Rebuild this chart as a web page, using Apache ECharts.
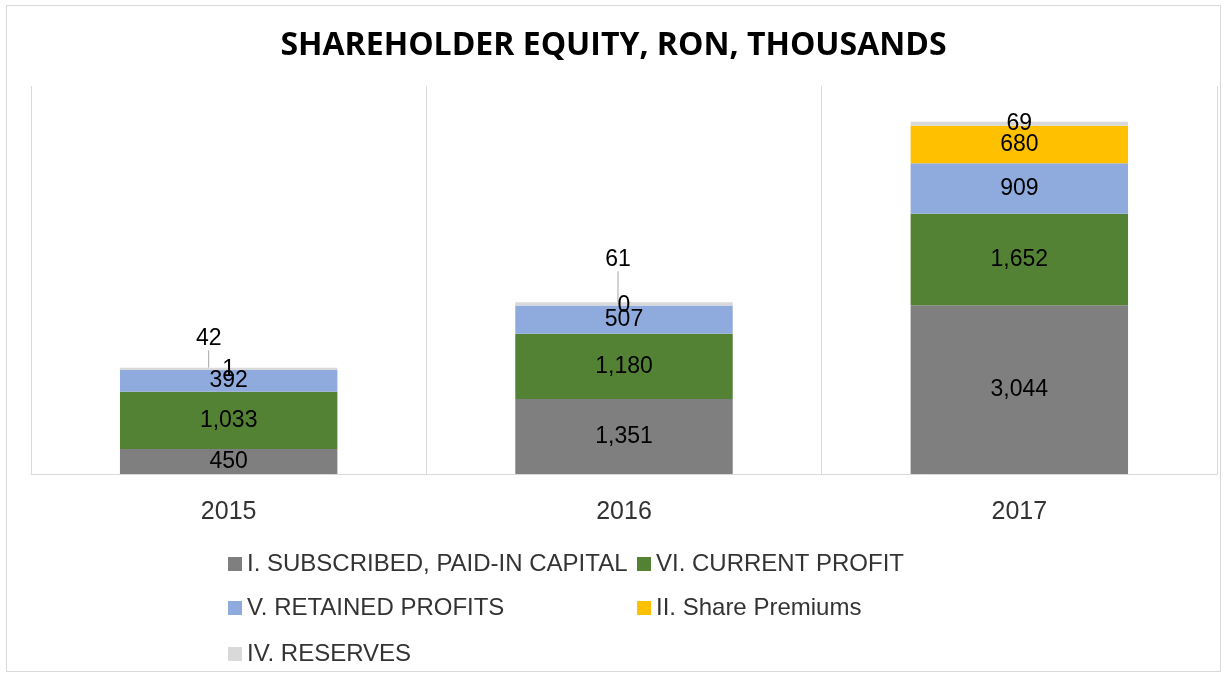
<!DOCTYPE html>
<html>
<head>
<meta charset="utf-8">
<script src="https://cdn.jsdelivr.net/npm/echarts@6/dist/echarts.min.js"></script>
<style>
  html, body { margin: 0; padding: 0; background: #fff; }
  #chart { position: absolute; left: 6px; top: 5px; width: 1215px; height: 667px; border: 1px solid #d9d9d9; box-sizing: border-box; }
</style>
</head>
<body>
<div id="chart"></div>
<script>
var years = ['2015', '2016', '2017'];
var capital = [450, 1351, 3044];
var currentProfit = [1033, 1180, 1652];
var retained = [392, 507, 909];
var premiums = [1, 0, 680];
var reserves = [42, 61, 69];
var seriesNames = ['I. SUBSCRIBED, PAID-IN CAPITAL', 'VI. CURRENT PROFIT', 'V. RETAINED PROFITS', 'II. Share Premiums', 'IV. RESERVES'];

var font = '"Liberation Sans Narrow", "Liberation Sans", sans-serif';
var chart = echarts.init(document.getElementById('chart'));

function fmt(p) { return p.value.toLocaleString('en-US'); }

function seg(name, data, color) {
  return {
    name: name,
    type: 'bar',
    stack: 'eq',
    barWidth: '55%',
    data: data,
    itemStyle: { color: color },
    label: {
      show: true,
      position: 'inside',
      formatter: fmt,
      color: '#000',
      fontFamily: font,
      fontSize: 23
    }
  };
}

var reserveSeries = seg(seriesNames[4], reserves, '#d9d9d9');
reserveSeries.labelLayout = function (p) {
  var dy = [-30, -44, 0][p.dataIndex];
  var dx = [-20, -6, 0][p.dataIndex];
  return { dy: dy, dx: dx };
};
reserveSeries.labelLine = { show: true, lineStyle: { color: '#a6a6a6', width: 1 } };

// one legend per item, laid out in two columns like the original
var legendPos = [[216, 541], [625, 541], [216, 585], [625, 585], [216, 631]];
var legends = seriesNames.map(function (n, i) {
  return {
    left: legendPos[i][0],
    top: legendPos[i][1],
    itemWidth: 14,
    itemHeight: 14,
    icon: 'rect',
    textStyle: { fontFamily: font, fontSize: 24, color: '#333' },
    data: [n]
  };
});

option = {
  animation: false,
  title: {
    text: 'SHAREHOLDER EQUITY, RON, THOUSANDS',
    left: 'center',
    top: 19,
    textStyle: { fontFamily: '"Open Sans", sans-serif', fontWeight: 'bold', fontSize: 32, color: '#000' }
  },
  legend: legends,
  grid: { left: 24, right: 3, top: 80, bottom: 197 },
  xAxis: {
    type: 'category',
    data: years,
    axisTick: { show: false },
    axisLine: { lineStyle: { color: '#d9d9d9' } },
    splitLine: { show: true, lineStyle: { color: '#d9d9d9' } },
    axisLabel: { color: '#333', fontFamily: font, fontSize: 25, margin: 26 }
  },
  yAxis: {
    type: 'value',
    min: 0,
    max: 7000,
    show: false
  },
  series: [
    seg(seriesNames[0], capital, '#7f7f7f'),
    seg(seriesNames[1], currentProfit, '#548235'),
    seg(seriesNames[2], retained, '#8faadc'),
    seg(seriesNames[3], premiums, '#ffc000'),
    reserveSeries
  ]
};

chart.setOption(option);
</script>
</body>
</html>
